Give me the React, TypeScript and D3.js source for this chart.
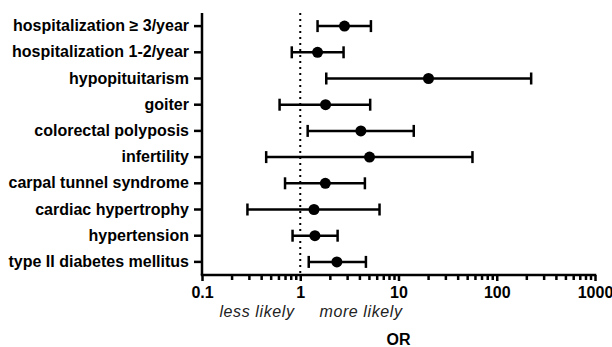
import React, { useRef, useEffect } from 'react';
import * as d3 from 'd3';

const categories = [
  'hospitalization \u2265 3/year',
  'hospitalization 1-2/year',
  'hypopituitarism',
  'goiter',
  'colorectal polyposis',
  'infertility',
  'carpal tunnel syndrome',
  'cardiac hypertrophy',
  'hypertension',
  'type II diabetes mellitus',
];
const oddsRatio = [2.82, 1.5, 20.2, 1.81, 4.14, 5.07, 1.8, 1.38, 1.41, 2.36];
const ciLow = [1.5, 0.82, 1.84, 0.616, 1.19, 0.45, 0.7, 0.29, 0.835, 1.22];
const ciHigh = [5.24, 2.76, 224, 5.15, 14.3, 56.6, 4.55, 6.41, 2.4, 4.66];
const majorTicks = [0.1, 1, 10, 100, 1000];

const width = 612;
const height = 347;
const marginLeft = 202;
const marginRight = 17;
const marginTop = 13;
const axisY = 275;
const font = 'Arial, "Liberation Sans", Helvetica, sans-serif';

export default function App() {
  const svgRef = useRef<SVGSVGElement>(null);

  useEffect(() => {
    const svg = d3.select(svgRef.current);
    svg.selectAll('*').remove();

    const x = d3.scaleLog().domain([0.1, 1000]).range([marginLeft, width - marginRight]);
    const y = d3.scaleBand().domain(categories).range([marginTop, axisY]);

    // minor ticks 2..9 per decade
    const minorTicks: number[] = [];
    for (let d = 0.1; d < 1000; d *= 10) {
      for (let k = 2; k <= 9; k++) minorTicks.push(+(d * k).toPrecision(3));
    }

    const xMinor = svg.append('g')
      .attr('transform', `translate(0,${axisY})`)
      .call(d3.axisBottom(x).tickValues(minorTicks).tickSize(5).tickFormat(() => ''));
    xMinor.select('.domain').remove();
    xMinor.selectAll('line').attr('stroke', '#000').attr('stroke-width', 2.5);

    const xMajor = svg.append('g')
      .attr('transform', `translate(0,${axisY})`)
      .call(d3.axisBottom(x).tickValues(majorTicks).tickSize(6).tickSizeOuter(0)
        .tickFormat(d => d3.format('~g')(d as number)));
    xMajor.select('.domain')
      .attr('d', `M${marginLeft - 1.25},0H${width - marginRight + 1.25}`)
      .attr('stroke', '#000').attr('stroke-width', 2.5);
    xMajor.selectAll('line').attr('stroke', '#000').attr('stroke-width', 2.5);
    xMajor.selectAll('text')
      .attr('y', 12)
      .attr('font-family', font)
      .attr('font-weight', 'bold')
      .attr('font-size', 16)
      .attr('fill', '#000');

    const yAxis = svg.append('g')
      .attr('transform', `translate(${marginLeft},0)`)
      .call(d3.axisLeft(y).tickSize(8).tickSizeOuter(0).tickPadding(5));
    yAxis.select('.domain')
      .attr('d', `M0,${marginTop}V${axisY}`)
      .attr('stroke', '#000').attr('stroke-width', 2.5);
    yAxis.selectAll('line').attr('stroke', '#000').attr('stroke-width', 2.5);
    yAxis.selectAll('text')
      .attr('font-family', font)
      .attr('font-weight', 'bold')
      .attr('font-size', 16)
      .attr('fill', '#000');

    // reference line at OR = 1
    svg.append('line')
      .attr('x1', x(1)).attr('x2', x(1))
      .attr('y1', marginTop).attr('y2', axisY)
      .attr('stroke', '#000')
      .attr('stroke-width', 2)
      .attr('stroke-dasharray', '2,4');

    const rows = categories.map((c, i) => ({ c, or: oddsRatio[i], lo: ciLow[i], hi: ciHigh[i] }));
    const g = svg.append('g').selectAll('g').data(rows).join('g')
      .attr('transform', d => `translate(0,${(y(d.c) ?? 0) + y.bandwidth() / 2})`);

    g.append('line')
      .attr('x1', d => x(d.lo)).attr('x2', d => x(d.hi))
      .attr('stroke', '#000').attr('stroke-width', 2.5);
    g.append('line')
      .attr('x1', d => x(d.lo)).attr('x2', d => x(d.lo))
      .attr('y1', -6).attr('y2', 6)
      .attr('stroke', '#000').attr('stroke-width', 2.5);
    g.append('line')
      .attr('x1', d => x(d.hi)).attr('x2', d => x(d.hi))
      .attr('y1', -6).attr('y2', 6)
      .attr('stroke', '#000').attr('stroke-width', 2.5);
    g.append('circle')
      .attr('cx', d => x(d.or))
      .attr('r', 5.5)
      .attr('fill', '#000');

    const note = svg.append('g')
      .attr('font-family', font)
      .attr('font-style', 'italic')
      .attr('font-size', 16)
      .attr('letter-spacing', 0.6)
      .attr('text-anchor', 'middle')
      .attr('fill', '#222');
    note.append('text').attr('x', 257).attr('y', 317).text('less likely');
    note.append('text').attr('x', 361).attr('y', 317).text('more likely');

    svg.append('text')
      .attr('x', x(10)).attr('y', 345)
      .attr('text-anchor', 'middle')
      .attr('font-family', font)
      .attr('font-weight', 'bold')
      .attr('font-size', 16)
      .text('OR');
  }, []);

  return (
    <svg
      ref={svgRef}
      width={width}
      height={height}
      style={{ position: 'absolute', left: 0, top: 0, background: '#fff' }}
    />
  );
}
